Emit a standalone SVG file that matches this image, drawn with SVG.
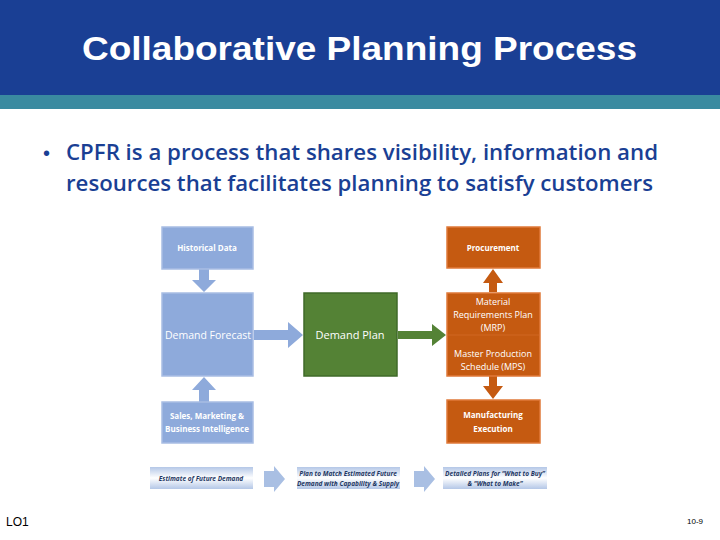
<svg xmlns="http://www.w3.org/2000/svg" width="720" height="540" viewBox="0 0 720 540">
<defs>
<style>
.b{fill:#8eaadb;stroke:#a8bde4;stroke-width:1.5}
.o{fill:#c55a11;stroke:#e07a3a;stroke-width:1.5}
.t{font-family:"Open Sans","DejaVu Sans",sans-serif;fill:#fff;text-anchor:middle}
.s{font-size:8px;font-weight:bold}
.g{font-family:"Open Sans","DejaVu Sans",sans-serif;font-size:6.5px;font-style:italic;font-weight:bold;fill:#1f3864;text-anchor:middle}
</style>
<linearGradient id="bar" x1="0" y1="0" x2="0" y2="1"><stop offset="0" stop-color="#b4c7e7"/><stop offset="0.5" stop-color="#ffffff"/><stop offset="1" stop-color="#b4c7e7"/></linearGradient>
</defs>
<rect width="720" height="540" fill="#fff"/>
<rect width="720" height="95" fill="#1a3f94"/>
<rect y="95" width="720" height="14" fill="#3a8aa0"/>
<text x="82" y="60" textLength="555" lengthAdjust="spacingAndGlyphs" font-family="Liberation Sans,Arial,sans-serif" font-size="33" font-weight="bold" fill="#fff">Collaborative Planning Process</text>
<text x="43" y="160" font-family="Liberation Sans,sans-serif" font-size="20" fill="#1a3f94">•</text>
<text font-family="Open Sans,sans-serif" font-size="21" font-weight="600" fill="#1a3f94"><tspan x="66" y="160" textLength="592" lengthAdjust="spacingAndGlyphs">CPFR is a process that shares visibility, information and</tspan><tspan x="66" y="191" textLength="587" lengthAdjust="spacingAndGlyphs">resources that facilitates planning to satisfy customers</tspan></text>
<g id="connectors">
<polygon points="199,269 209,269 209,280 216,280 204,292 192,280 199,280" fill="#8eaadb"/>
<polygon points="199,402 209,402 209,390 216,390 204,377 192,390 199,390" fill="#8eaadb"/>
<polygon points="254,330 288,330 288,322 303,335 288,348 288,340 254,340" fill="#8eaadb"/>
<polygon points="398,331 432,331 432,324 446,335 432,346 432,339 398,339" fill="#548235"/>
<polygon points="489,292 497,292 497,283 503,283 493,269 483,283 489,283" fill="#c55a11"/>
<polygon points="489,376 497,376 497,386 503,386 493,399 483,386 489,386" fill="#c55a11"/>
</g>
<g id="historical"><rect class="b" x="162" y="227" width="91" height="42"/><text class="t s" x="207" y="251">Historical Data</text></g>
<g id="forecast"><rect class="b" x="162" y="293" width="91" height="83"/><text class="t" x="208" y="339" font-size="10.5">Demand Forecast</text></g>
<g id="sales"><rect class="b" x="162" y="402" width="91" height="41"/><text class="t s"><tspan x="207" y="419">Sales, Marketing &amp;</tspan><tspan x="207" y="432">Business Intelligence</tspan></text></g>
<g id="plan"><rect x="304" y="293" width="93" height="83" fill="#548235" stroke="#3f6a28" stroke-width="1.5"/><text class="t" x="350" y="339" font-size="11">Demand  Plan</text></g>
<g id="procurement"><rect class="o" x="447" y="227" width="93" height="41"/><text class="t s" x="493" y="251">Procurement</text></g>
<g id="mrp"><rect class="o" x="447" y="293" width="93" height="83"/><line x1="447" y1="335" x2="540" y2="335" stroke="#d97030" stroke-width="0.6"/><text class="t" font-size="9"><tspan x="493" y="305">Material</tspan><tspan x="493" y="318">Requirements Plan</tspan><tspan x="493" y="331">(MRP)</tspan><tspan x="493" y="357">Master Production</tspan><tspan x="493" y="370">Schedule (MPS)</tspan></text></g>
<g id="manufacturing"><rect class="o" x="447" y="400" width="93" height="43"/><text class="t s"><tspan x="493" y="418">Manufacturing</tspan><tspan x="493" y="432">Execution</tspan></text></g>
<g id="bars">
<rect x="150" y="467" width="103" height="22" fill="url(#bar)"/><text class="g" x="201" y="481">Estimate of Future Demand</text>
<polygon points="264,471 274,471 274,466 285,479 274,492 274,487 264,487" fill="#a9bfe3"/>
<rect x="297" y="467" width="103" height="22" fill="url(#bar)"/><text class="g"><tspan x="348" y="476">Plan to Match Estimated Future</tspan><tspan x="348" y="486">Demand with Capability &amp; Supply</tspan></text>
<polygon points="414,471 424,471 424,466 435,479 424,492 424,487 414,487" fill="#a9bfe3"/>
<rect x="443" y="467" width="104" height="22" fill="url(#bar)"/><text class="g"><tspan x="495" y="476">Detailed Plans for “What to Buy”</tspan><tspan x="495" y="486">&amp; “What to Make”</tspan></text>
</g>
<text x="6" y="526" font-family="Liberation Sans,sans-serif" font-size="12" fill="#000">LO1</text>
<text x="703" y="524" font-family="Liberation Sans,sans-serif" font-size="8" fill="#000" text-anchor="end">10-9</text>
</svg>
